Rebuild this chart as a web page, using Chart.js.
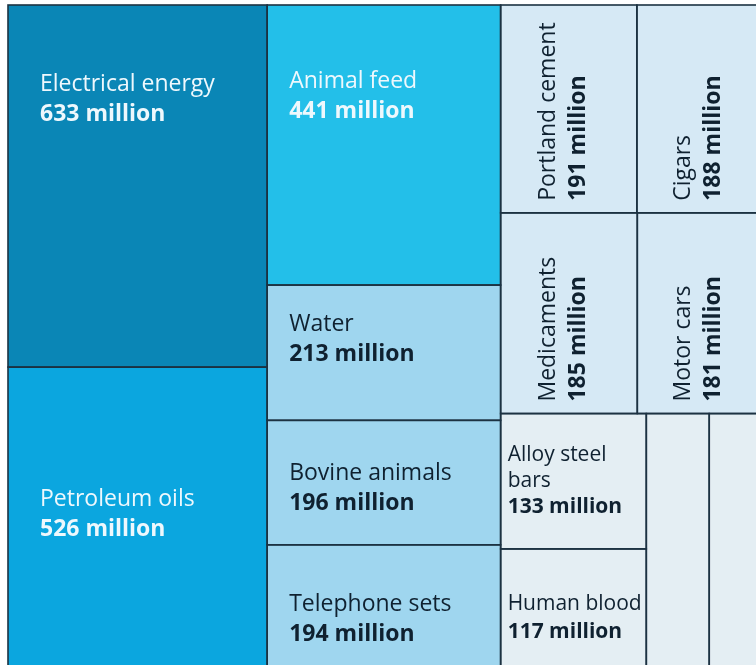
<!DOCTYPE html>
<html>
<head>
<meta charset="utf-8">
<script src="https://cdn.jsdelivr.net/npm/chart.js@4"></script>
<style>
	html, body { margin: 0; padding: 0; background: #ffffff; }
	#chart { display: block; }
</style>
</head>
<body>
<canvas id="chart" width="756" height="665"></canvas>
<script>
// export values, in US dollars
const products = [
	'Electrical energy', 'Petroleum oils', 'Animal feed', 'Water', 'Bovine animals',
	'Telephone sets', 'Portland cement', 'Cigars', 'Medicaments', 'Motor cars',
	'Alloy steel bars', 'Human blood', '', ''
];
const values = [633, 526, 441, 213, 196, 194, 191, 188, 185, 181, 133, 117, 108, 106];
const unit = 'million';

// how many tiles go in each strip of the layout
const strips = [2, 4, 2, 2, 2, 2];

// styling
const tileColors = ['#0a86b6', '#0ba6df', '#23bfe9', '#9fd6ef', '#9fd6ef', '#9fd6ef',
	'#d6e9f5', '#d6e9f5', '#d6e9f5', '#d6e9f5', '#e4eef3', '#e4eef3', '#e4eef3', '#e4eef3'];
const labelAnchor = [0.28, 0.51, 0.35, 0.45, 0.6, 0.66, 0.5, 0.5, 0.5, 0.5, 0.54, 0.63, 0.5, 0.5];
const borderColor = '#1c3242';
const lightText = '#eef8fd';
const darkText = '#0f2130';
const FONT = '"Open Sans", "Noto Sans", sans-serif';
const fontSize = 23;
const smallFontSize = 21;
const lineHeight = 30;

const TW = 763, TH = 663;

function sum(arr) {
	return arr.reduce((a, b) => a + b, 0);
}

function layoutTiles() {
	let x0 = 0, y0 = 0;
	const x1 = TW, y1 = TH;
	let rest = sum(values);
	let i = 0;
	const cells = [];
	strips.forEach(n => {
		const group = values.slice(i, i + n);
		const s = sum(group);
		const dx = x1 - x0, dy = y1 - y0;
		if (dx / dy >= 0.7) {
			const w = dx * s / rest;
			let y = y0;
			group.forEach((v, k) => {
				const h = dy * v / s;
				cells.push({ idx: i + k, x0: x0, x1: x0 + w, y0: y, y1: y + h });
				y += h;
			});
			x0 += w;
		} else {
			const h = dy * s / rest;
			let x = x0;
			group.forEach((v, k) => {
				const w = dx * v / s;
				cells.push({ idx: i + k, x0: x, x1: x + w, y0: y0, y1: y0 + h });
				x += w;
			});
			y0 += h;
		}
		rest -= s;
		i += n;
	});
	return cells.map(c => ({ ...c, x: (c.x0 + c.x1) / 2, y: (c.y0 + c.y1) / 2 }));
}

function wrapText(ctx, text, maxWidth) {
	const words = text.split(' ');
	const lines = [];
	let line = '';
	words.forEach(w => {
		const test = line ? line + ' ' + w : w;
		if (line && ctx.measureText(test).width > maxWidth) {
			lines.push(line);
			line = w;
		} else {
			line = test;
		}
	});
	if (line) lines.push(line);
	return lines;
}

function leftPad(w) {
	if (w >= 250) return 32;
	if (w >= 200) return 22;
	return 7;
}

const treemapPlugin = {
	id: 'treemap',
	beforeDatasetsDraw(chart) {
		const { ctx, chartArea, scales: { x, y } } = chart;
		const cells = chart.data.datasets[0].data;
		ctx.save();
		ctx.beginPath();
		ctx.rect(chartArea.left, chartArea.top, chartArea.right - chartArea.left, chartArea.bottom - chartArea.top);
		ctx.clip();

		cells.forEach(c => {
			const px0 = x.getPixelForValue(c.x0), px1 = x.getPixelForValue(c.x1);
			const py0 = y.getPixelForValue(c.y0), py1 = y.getPixelForValue(c.y1);
			ctx.fillStyle = tileColors[c.idx];
			ctx.fillRect(px0, py0, px1 - px0, py1 - py0);
		});
		ctx.strokeStyle = borderColor;
		ctx.lineWidth = 1.6;
		cells.forEach(c => {
			const px0 = x.getPixelForValue(c.x0), px1 = x.getPixelForValue(c.x1);
			const py0 = y.getPixelForValue(c.y0), py1 = y.getPixelForValue(c.y1);
			ctx.strokeRect(px0, py0, px1 - px0, py1 - py0);
		});

		cells.forEach(c => {
			const name = products[c.idx];
			if (!name) return;
			const px0 = x.getPixelForValue(c.x0), px1 = x.getPixelForValue(c.x1);
			const py0 = y.getPixelForValue(c.y0), py1 = y.getPixelForValue(c.y1);
			const w = px1 - px0, h = py1 - py0;
			ctx.fillStyle = c.idx < 3 ? lightText : darkText;
			ctx.textAlign = 'left';
			ctx.textBaseline = 'alphabetic';
			const valueText = values[c.idx] + ' ' + unit;

			if (h / w > 1.3 && w < 200) {
				// tall narrow tile: label runs upward from the bottom
				ctx.save();
				ctx.translate((px0 + px1) / 2, py1 - 12);
				ctx.rotate(-Math.PI / 2);
				ctx.font = `${fontSize}px ${FONT}`;
				ctx.fillText(name, 0, -lineHeight / 2 + 1);
				ctx.font = `bold ${fontSize}px ${FONT}`;
				ctx.fillText(valueText, 0, lineHeight / 2 + 1);
				ctx.restore();
				return;
			}

			const pad = leftPad(w);
			const size = w < 200 ? smallFontSize : fontSize;
			ctx.font = `${size}px ${FONT}`;
			const lines = wrapText(ctx, name, w - pad - 2);
			const all = lines.length + 1;
			const mid = py0 + h * labelAnchor[c.idx];
			const lh = lines.length > 1 ? lineHeight - 4 : (w < 200 ? lineHeight - 2 : lineHeight);
			lines.forEach((ln, k) => {
				ctx.fillText(ln, px0 + pad, mid + (k - (all - 1) / 2) * lh);
			});
			ctx.font = `bold ${size}px ${FONT}`;
			ctx.fillText(valueText, px0 + pad, mid + (all - 1) / 2 * lh);
		});
		ctx.restore();
	}
};

const tiles = layoutTiles();

new Chart(document.getElementById('chart'), {
	type: 'scatter',
	data: {
		datasets: [{
			label: 'Exports',
			data: tiles,
			pointRadius: 0,
			pointHoverRadius: 0
		}]
	},
	options: {
		responsive: false,
		animation: false,
		layout: { padding: 0 },
		scales: {
			x: { type: 'linear', min: -8, max: 748, display: false },
			y: { type: 'linear', min: -5, max: 660, reverse: true, display: false }
		},
		plugins: {
			legend: { display: false },
			tooltip: { enabled: false }
		}
	},
	plugins: [treemapPlugin]
});
</script>
</body>
</html>
